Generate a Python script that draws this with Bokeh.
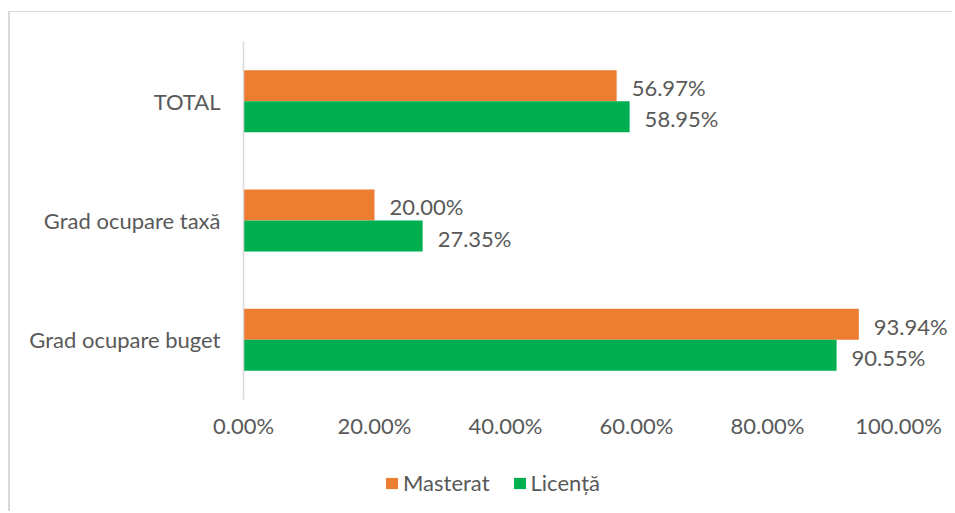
from bokeh.plotting import figure
from bokeh.models import Range1d, ColumnDataSource, PrintfTickFormatter, Legend, LegendItem, FixedTicker
from bokeh.core.properties import value
from bokeh.embed import file_html
from bokeh.resources import INLINE

categories = ["Grad ocupare buget", "Grad ocupare taxă", "TOTAL"]
masterat = [93.94, 20.00, 56.97]
licenta = [90.55, 27.35, 58.95]
series_names = ["Masterat", "Licență"]
colors = ["#ED7D31", "#00B050"]
ticks = [0, 20, 40, 60, 80, 100]

FONT = "Lato"
TXT = "#595959"
FS = "22px"

ypos = [i + 0.5 for i in range(len(categories))]
src = ColumnDataSource(dict(
    ym=[v + 0.13 for v in ypos],
    yl=[v - 0.13 for v in ypos],
    m=masterat,
    l=licenta,
    m_lab=[f"{v:.2f}%" for v in masterat],
    l_lab=[f"{v:.2f}%" for v in licenta],
))

# canvas placed at page (10, 12); value axis origin at page x=243, category block from page y=41 to 399
W, H = 944, 500
px_per_unit_y = 358 / 3.0
px_per_pct = 6.55
origin_x = 243 - 10
top_y = 41 - 12

p = figure(width=W, height=H,
           x_range=Range1d(-origin_x / px_per_pct, (W - origin_x) / px_per_pct),
           y_range=Range1d(3 - (H - top_y) / px_per_unit_y, 3 + top_y / px_per_unit_y),
           output_backend="svg", toolbar_location=None,
           min_border_left=0, min_border_right=0, min_border_top=0, min_border_bottom=0)
p.background_fill_color = "white"
p.border_fill_color = "white"
p.outline_line_color = None
p.grid.grid_line_color = None

rm = p.hbar(y="ym", left=0, right="m", height=0.26, source=src, fill_color=colors[0], line_color=None)
rl = p.hbar(y="yl", left=0, right="l", height=0.26, source=src, fill_color=colors[1], line_color=None)

p.text(x="m", y="ym", text="m_lab", source=src,
       x_offset=15, y_offset=2, text_align="left", text_baseline="middle",
       text_font=value(FONT), text_font_size=FS, text_color=TXT)
p.text(x="l", y="yl", text="l_lab", source=src,
       x_offset=15, y_offset=2, text_align="left", text_baseline="middle",
       text_font=value(FONT), text_font_size=FS, text_color=TXT)

xa = p.xaxis[0]
xa.ticker = FixedTicker(ticks=ticks)
xa.formatter = PrintfTickFormatter(format="%.2f%%")
xa.fixed_location = 0
xa.bounds = (0, 100)
xa.axis_line_color = None
xa.major_tick_line_color = None
xa.minor_tick_line_color = None
xa.major_label_standoff = 6
xa.major_label_text_font = FONT
xa.major_label_text_font_size = FS
xa.major_label_text_color = TXT

ya = p.yaxis[0]
ya.ticker = FixedTicker(ticks=ypos)
ya.major_label_overrides = {y: c for y, c in zip(ypos, categories)}
ya.fixed_location = 0
ya.bounds = (0, 3)
ya.axis_line_color = "#D9D9D9"
ya.axis_line_width = 1.5
ya.major_tick_line_color = None
ya.minor_tick_line_color = None
ya.major_label_standoff = 17
ya.major_label_text_font = FONT
ya.major_label_text_font_size = FS
ya.major_label_text_color = TXT

legend = Legend(items=[LegendItem(label=series_names[0], renderers=[rm]),
                       LegendItem(label=series_names[1], renderers=[rl])],
                orientation="horizontal", location=(384 - 10, 16))
legend.padding = 0
legend.margin = 0
legend.spacing = 22
legend.glyph_width = 15
legend.glyph_height = 14
legend.label_standoff = 4
legend.label_height = 14
legend.border_line_color = None
legend.background_fill_alpha = 0
legend.label_text_font = FONT
legend.label_text_font_size = FS
legend.label_text_color = TXT
p.add_layout(legend, "center")

p.styles = {"border-left": "2px solid #D9D9D9", "border-top": "1px solid #D9D9D9",
            "margin-top": "11px", "margin-left": "8px"}

open("out.html", "w").write(file_html(p, INLINE))
